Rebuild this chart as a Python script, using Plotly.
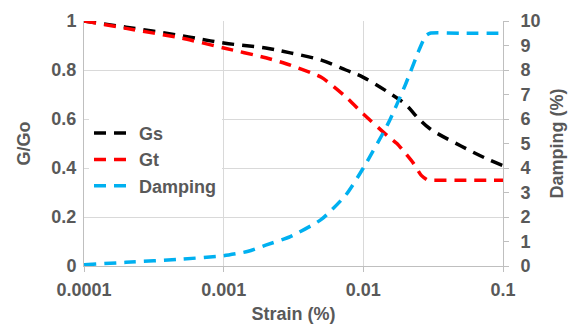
import plotly.graph_objects as go

strain = [0.0001, 0.0002, 0.0005, 0.001, 0.002, 0.003, 0.005, 0.0075, 0.01, 0.015, 0.02, 0.025, 0.03, 0.05, 0.075, 0.1]
gs = [1.0, 0.975, 0.94, 0.91, 0.89, 0.87, 0.84, 0.80, 0.77, 0.71, 0.66, 0.60, 0.56, 0.49, 0.44, 0.41]
gt_strain = [0.0001, 0.0002, 0.0005, 0.001, 0.002, 0.003, 0.005, 0.0075, 0.01, 0.015, 0.0174, 0.02, 0.0228, 0.026, 0.029, 0.03, 0.05, 0.1]
gt = [1.0, 0.97, 0.93, 0.89, 0.85, 0.82, 0.77, 0.69, 0.62, 0.53, 0.50, 0.46, 0.42, 0.37, 0.35, 0.35, 0.35, 0.35]
d_strain = [0.0001, 0.0002, 0.0005, 0.001, 0.0015, 0.002, 0.003, 0.005, 0.0075, 0.01, 0.015, 0.02, 0.025, 0.028, 0.03, 0.05, 0.1]
damping = [0.05, 0.15, 0.28, 0.42, 0.6, 0.85, 1.2, 1.9, 2.9, 4.0, 5.8, 7.4, 8.8, 9.4, 9.5, 9.5, 9.5]

x_ticks = [0.0001, 0.001, 0.01, 0.1]
x_labels = ["0.0001", "0.001", "0.01", "0.1"]
y_ticks = [0, 0.2, 0.4, 0.6, 0.8, 1]
y_labels = ["0", "0.2", "0.4", "0.6", "0.8", "1"]

FONT = "Liberation Sans"
GRAY = "#595959"
DASH = "12px,8px"
FS = 18
bold = dict(family=FONT, size=FS, color=GRAY, weight="bold")

fig = go.Figure()
fig.add_trace(go.Scatter(x=strain, y=gs, name="Gs", mode="lines",
                         line=dict(color="black", width=3.5, dash=DASH, shape="spline")))
fig.add_trace(go.Scatter(x=gt_strain, y=gt, name="Gt", mode="lines",
                         line=dict(color="#FF0000", width=3.5, dash=DASH, shape="spline", smoothing=0.6)))
fig.add_trace(go.Scatter(x=d_strain, y=damping, name="Damping", mode="lines", yaxis="y2",
                         line=dict(color="#00B0F0", width=3.5, dash=DASH, shape="spline", smoothing=0.6)))

fig.update_layout(
    width=570, height=327,
    margin=dict(l=84, r=67, t=21, b=61),
    paper_bgcolor="white", plot_bgcolor="white",
    font=dict(family=FONT, size=FS, color=GRAY),
    showlegend=True,
    legend=dict(x=0.012, y=0.617, xanchor="left", yanchor="top", bgcolor="white",
                font=bold, itemwidth=40, tracegroupgap=0),
    xaxis=dict(type="log", range=[-4, -1],
               tickvals=x_ticks, ticktext=x_labels,
               showgrid=True, gridcolor="#D9D9D9", gridwidth=1,
               showline=True, linecolor="#BFBFBF", linewidth=1,
               ticks="outside", ticklen=5, tickcolor="#BFBFBF",
               tickfont=bold, automargin=False, ticklabelstandoff=2,
               title=dict(text="Strain (%)", font=bold, standoff=8),
               zeroline=False),
    yaxis=dict(range=[0, 1], tickvals=y_ticks, ticktext=y_labels,
               showgrid=True, gridcolor="#D9D9D9", gridwidth=1,
               showline=True, linecolor="#BFBFBF", linewidth=1, zeroline=False,
               tickfont=bold, automargin=False, ticklabelstandoff=3,
               title=dict(text="G/Go", font=bold, standoff=16)),
    yaxis2=dict(range=[0, 10], dtick=1, overlaying="y", side="right",
                showgrid=False, showline=True, linecolor="#BFBFBF", linewidth=1, zeroline=False,
                ticks="outside", ticklen=5, tickcolor="#BFBFBF",
                tickfont=bold, automargin=False, ticklabelstandoff=8,
                title=dict(text="Damping (%)", font=bold, standoff=10)),
)

fig.write_html("out.html")
